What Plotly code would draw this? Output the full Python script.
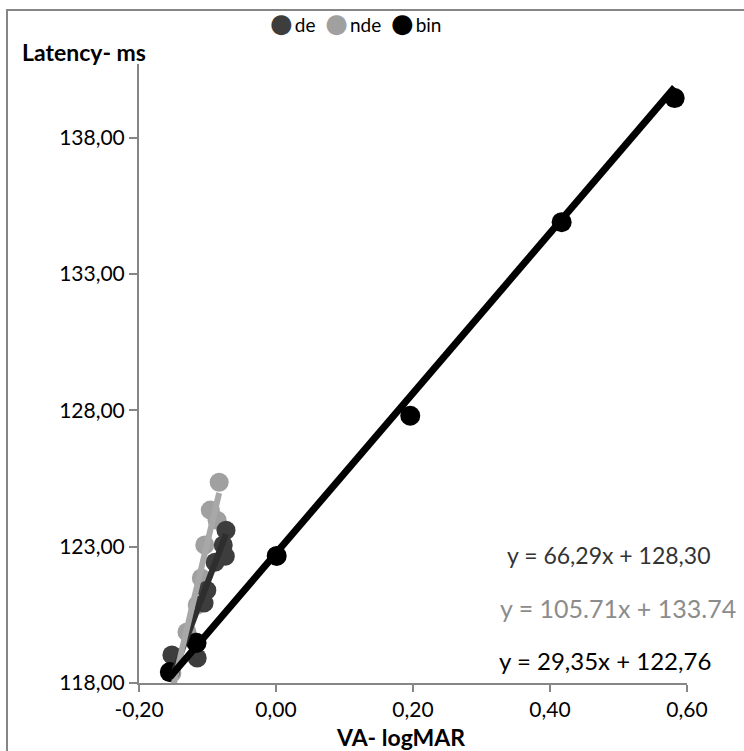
import plotly.graph_objects as go

# VA (logMAR) vs latency (ms) for three viewing conditions
de_x = [-0.073, -0.077, -0.074, -0.089, -0.101, -0.105, -0.117, -0.152, -0.115]
de_y = [123.60, 123.06, 122.65, 122.43, 121.40, 120.93, 119.50, 119.03, 118.92]

nde_x = [-0.083, -0.096, -0.086, -0.104, -0.109, -0.115, -0.130, -0.152]
nde_y = [125.36, 124.34, 123.97, 123.06, 121.85, 120.86, 119.87, 118.37]

bin_x = [-0.155, -0.116, 0.001, 0.196, 0.417, 0.582]
bin_y = [118.40, 119.47, 122.66, 127.80, 134.90, 139.45]

# linear trendlines: slope, intercept
series_names = ["de", "nde", "bin"]
trend_slope = [66.29, 105.71, 29.35]
trend_intercept = [128.30, 133.74, 122.76]
trend_labels = ["y = 66,29x + 128,30", "y = 105.71x + 133.74", "y = 29,35x + 122,76"]

x_tick_vals = [-0.2, 0.0, 0.2, 0.4, 0.6]
x_tick_text = ["-0,20", "0,00", "0,20", "0,40", "0,60"]
y_tick_vals = [118, 123, 128, 133, 138]
y_tick_text = ["118,00", "123,00", "128,00", "133,00", "138,00"]

marker_colors = ["#3d3d3d", "#a0a0a0", "#000000"]
marker_sizes = [19, 19, 20]
line_colors = ["#2e2e2e", "#a8a8a8", "#000000"]
label_colors = ["#333333", "#8c8c8c", "#000000"]

FONT = "Lato"
xs = [de_x, nde_x, bin_x]
ys = [de_y, nde_y, bin_y]

# plot area in pixels
L, R, T, B = 139, 687, 64, 683
PW, PH = R - L, B - T


def px(x):
    return (x - L) / PW


def py(y):
    return (B - y) / PH


fig = go.Figure()

for i in [1, 0, 2]:
    fig.add_trace(go.Scatter(
        x=xs[i], y=ys[i], mode="markers", name=series_names[i],
        marker=dict(size=marker_sizes[i], color=marker_colors[i], line=dict(width=0)),
        showlegend=False,
    ))

for i in [0, 1, 2]:
    x0, x1 = min(xs[i]), max(xs[i])
    fig.add_trace(go.Scatter(
        x=[x0, x1],
        y=[trend_slope[i] * x0 + trend_intercept[i], trend_slope[i] * x1 + trend_intercept[i]],
        mode="lines", line=dict(color=line_colors[i], width=7 if i == 2 else 6),
        showlegend=False, hoverinfo="skip",
    ))

# equation labels
label_pos = [(px(608), py(555)), (px(618), py(608)), (px(605), py(660))]
label_sizes = [23, 25, 24]
for i in range(3):
    fig.add_annotation(
        x=label_pos[i][0], y=label_pos[i][1], xref="paper", yref="paper",
        text=trend_labels[i], showarrow=False, xanchor="center", yanchor="middle",
        font=dict(family=FONT, size=label_sizes[i], color=label_colors[i]),
    )

# series key along the top
nb = "\u00a0"
key_parts = []
for i in range(3):
    key_parts.append(
        f"<span style='color:{marker_colors[i]};font-size:26px;font-family:DejaVu Sans'>\u25cf</span>"
        f"<span style='font-size:8px'>{nb}</span>{series_names[i]}"
    )
fig.add_annotation(
    x=px(355), y=py(23), xref="paper", yref="paper",
    text=(nb * 2).join(key_parts), showarrow=False, xanchor="center", yanchor="middle",
    font=dict(family=FONT, size=19, color="#000000"),
)

fig.add_annotation(
    x=px(20), y=py(52), xref="paper", yref="paper", text="<b>Latency- ms</b>",
    showarrow=False, xanchor="left", yanchor="middle",
    font=dict(family=FONT, size=23, color="#000000"),
)
fig.add_annotation(
    x=px(400), y=py(737), xref="paper", yref="paper", text="<b>VA- logMAR</b>",
    showarrow=False, xanchor="center", yanchor="middle",
    font=dict(family=FONT, size=23, color="#000000"),
)

# chart border (top and left edges fall inside the page)
fig.add_shape(type="rect", xref="paper", yref="paper",
              x0=px(7), x1=px(760), y0=py(770), y1=py(10),
              line=dict(color="#868686", width=2), fillcolor="rgba(0,0,0,0)", layer="below")

fig.update_xaxes(
    range=[-0.2, 0.6], tickvals=x_tick_vals, ticktext=x_tick_text,
    showgrid=False, zeroline=False, showline=True, linecolor="#868686", linewidth=2,
    ticks="outside", ticklen=7, tickcolor="#868686", tickwidth=2,
    tickfont=dict(family=FONT, size=21, color="#000000"),
)
fig.update_yaxes(
    range=[118, 140.7], tickvals=y_tick_vals, ticktext=y_tick_text,
    showgrid=False, zeroline=False, showline=True, linecolor="#868686", linewidth=2,
    ticks="outside", ticklen=8, tickcolor="#868686", tickwidth=2,
    tickfont=dict(family=FONT, size=21, color="#000000"),
)

fig.update_layout(
    width=744, height=751,
    margin=dict(l=L, r=744 - R, t=T, b=751 - B),
    paper_bgcolor="#ffffff", plot_bgcolor="#ffffff",
    showlegend=False,
    font=dict(family=FONT),
)

fig.write_html("out.html")
